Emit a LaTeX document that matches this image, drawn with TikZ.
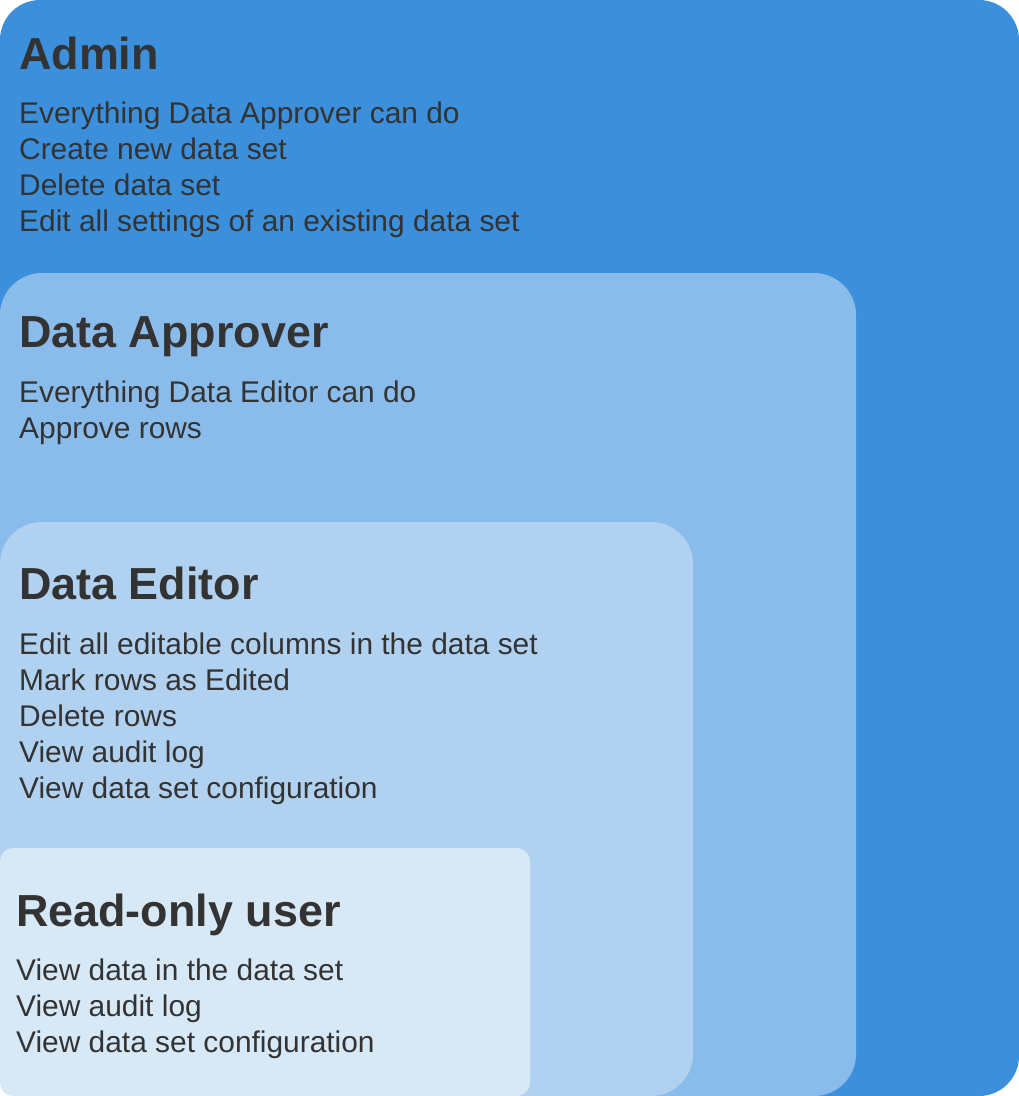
\documentclass[tikz,border=0pt]{standalone}
\usepackage{fontspec}
\setmainfont{Liberation Sans}

\definecolor{adminblue}{HTML}{3B8FDB}
\definecolor{approverblue}{HTML}{8ABCEB}
\definecolor{editorblue}{HTML}{B0D1F0}
\definecolor{readerblue}{HTML}{D7E8F7}
\definecolor{textgrey}{HTML}{333333}

\tikzset{
    roletitle/.style = {anchor = base west, inner sep = 0pt, text = textgrey, font = \fontsize{44.9}{50}\selectfont\bfseries},
    roleitem/.style = {anchor = base west, inner sep = 0pt, text = textgrey, font = \fontsize{29.9}{36}\selectfont},
}

\begin{document}
\begin{tikzpicture}[x = 1pt, y = -1pt]
    \useasboundingbox (0, 0) rectangle (1019, 1096);

    % nested role boxes
    \fill [adminblue, rounded corners = 40pt] (0, 0) rectangle (1019, 1096);
    \fill [approverblue, rounded corners = 42pt] (0, 273) rectangle (856, 1096);
    \fill [editorblue, rounded corners = 42pt] (0, 522) rectangle (693, 1096);
    \fill [readerblue, rounded corners = 13pt] (0, 848) rectangle (530, 1096);

    % Admin
    \node [roletitle] (admin) at (19, 69) {Admin};
    \foreach \txt [count = \i] in {Everything Data Approver can do, Create new data set, Delete data set, Edit all settings of an existing data set}
        \node [roleitem] (admin\i) at (19, {87 + 36*\i}) {\txt};

    % Data Approver
    \node [roletitle] (approver) at (19, 347) {Data Approver};
    \foreach \txt [count = \i] in {Everything Data Editor can do, Approve rows}
        \node [roleitem] (approver\i) at (19, {366 + 36*\i}) {\txt};

    % Data Editor
    \node [roletitle] (editor) at (19, 599) {Data Editor};
    \foreach \txt [count = \i] in {Edit all editable columns in the data set, Mark rows as Edited, Delete rows, View audit log, View data set configuration}
        \node [roleitem] (editor\i) at (19, {618 + 36*\i}) {\txt};

    % Read-only user
    \node [roletitle] (reader) at (16, 926) {Read-only user};
    \foreach \txt [count = \i] in {View data in the data set, View audit log, View data set configuration}
        \node [roleitem] (reader\i) at (16, {944 + 36*\i}) {\txt};
\end{tikzpicture}
\end{document}
